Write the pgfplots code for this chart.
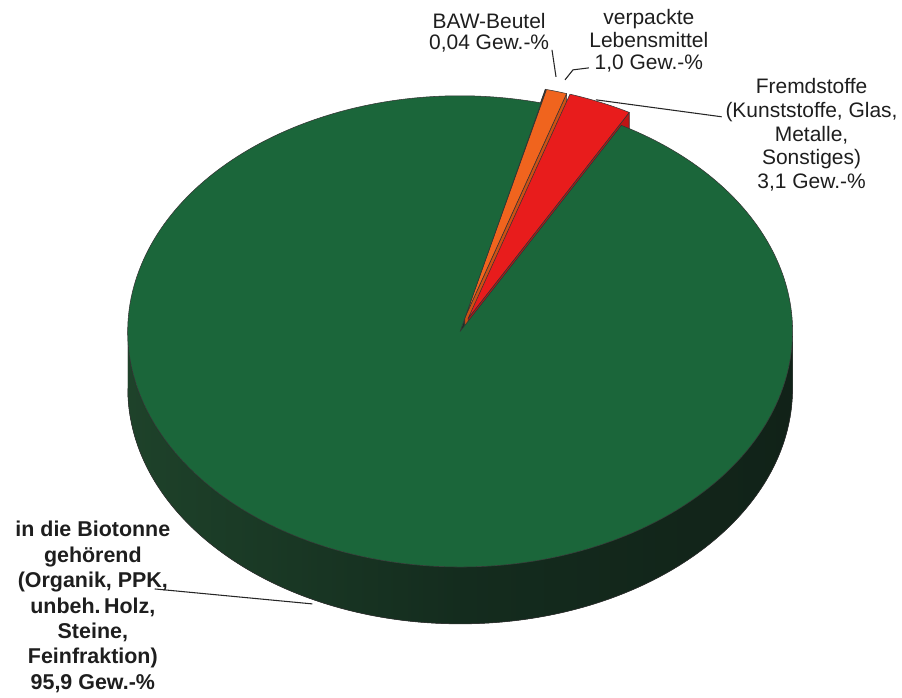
\documentclass[border=0pt]{standalone}
\usepackage{pgfplots}
\pgfplotsset{compat=1.18}
\usepackage{pgfplotstable}
\usepackage{fontspec}
\setmainfont{Liberation Sans}

\definecolor{gtop}{RGB}{27,102,58}
\definecolor{gface}{RGB}{20,55,35}
\definecolor{sideL}{RGB}{30,66,42}
\definecolor{sideM}{RGB}{20,44,30}
\definecolor{sideR}{RGB}{17,34,24}
\definecolor{rtop}{RGB}{232,28,28}
\definecolor{rface}{RGB}{190,20,20}
\definecolor{otop}{RGB}{240,100,30}
\definecolor{oface}{RGB}{205,80,20}
\definecolor{btop}{RGB}{30,50,38}
\definecolor{txt}{RGB}{30,30,30}

\pgfplotstableread{
part value
green 95.9
red 3.1
orange 1.0
baw 0.04
}\piedata

% top face of a slice: colour, apex x, apex y, start angle, end angle
\newcommand\pietop[5]{%
  \filldraw[fill=#1, draw=black!80, line width=0.4pt, line join=round]
    (axis cs:#2,#3) -- ([shift={(#4:249.75pt and 177pt)}]axis cs:#2,#3)
    arc[start angle=#4, end angle=#5, x radius=249.75pt, y radius=177pt] -- cycle;}
% radial cut face: colour, apex x, apex y (top), apex y (bottom), angle
\newcommand\pieradial[5]{%
  \filldraw[fill=#1, draw=black!80, line width=0.4pt, line join=round]
    (axis cs:#2,#3) -- ([shift={(#5:249.75pt and 177pt)}]axis cs:#2,#3)
    -- ([shift={(#5:249.75pt and 177pt)}]axis cs:#2,#4) -- (axis cs:#2,#4) -- cycle;}

\begin{document}
\begin{tikzpicture}
\pgfplotstablegetelem{0}{value}\of\piedata \let\vG\pgfplotsretval
\pgfplotstablegetelem{1}{value}\of\piedata \let\vR\pgfplotsretval
\pgfplotstablegetelem{2}{value}\of\piedata \let\vO\pgfplotsretval
\pgfplotstablegetelem{3}{value}\of\piedata \let\vB\pgfplotsretval
\pgfmathsetmacro\tot{\vG+\vR+\vO+\vB}
\pgfmathsetmacro\aR{61}
\pgfmathsetmacro\bR{\aR+\vR/\tot*360}
\pgfmathsetmacro\bO{\bR+\vO/\tot*360}
\pgfmathsetmacro\bB{\bO+\vB/\tot*360}
\pgfmathsetmacro\bG{\aR+360}
% centre of the pie (axis units = pixels), thickness 57
\def\cx{461}\def\cy{360}\def\cyb{303}
% exploded apices
\pgfmathsetmacro\mR{(\aR+\bR)/2}
\pgfmathsetmacro\Rx{\cx+0.06*333*cos(\mR)}
\pgfmathsetmacro\Ry{\cy+0.06*236*sin(\mR)}
\pgfmathsetmacro\Ryb{\Ry-57}
\pgfmathsetmacro\mO{(\bR+\bO)/2}
\pgfmathsetmacro\Ox{\cx+0.05*333*cos(\mO)}
\pgfmathsetmacro\Oy{\cy+0.06*236*sin(\mO)}
\pgfmathsetmacro\Oyb{\Oy-57}
\pgfmathsetmacro\mB{(\bO+\bB)/2}
\pgfmathsetmacro\Bx{\cx+0.05*333*cos(\mB)}
\pgfmathsetmacro\By{\cy+0.06*236*sin(\mB)}
\pgfmathsetmacro\Byb{\By-57}
\begin{axis}[width=676.5pt, height=519pt, scale only axis,
  xmin=0, xmax=902, ymin=0, ymax=692, hide axis, clip=false]
  % keep the full canvas as bounding box
  \path (axis cs:0,0) rectangle (axis cs:902,692);
  % green cut face visible in the gap
  \pieradial{gface}{\cx}{\cy}{\cyb}{\bB}
  % BAW-Beutel
  \pieradial{btop}{\Bx}{\By}{\Byb}{\bO}
  \pietop{btop}{\Bx}{\By}{\bO}{\bB}
  % verpackte Lebensmittel
  \pieradial{oface}{\Ox}{\Oy}{\Oyb}{\bR}
  \pietop{otop}{\Ox}{\Oy}{\bR}{\bO}
  % Fremdstoffe
  \pieradial{rface}{\Rx}{\Ry}{\Ryb}{\aR}
  \pietop{rtop}{\Rx}{\Ry}{\aR}{\bR}
  % green front side
  \fill[left color=sideL, right color=sideR, middle color=sideM]
    ([shift={(180:249.75pt and 177pt)}]axis cs:\cx,\cy)
    arc[start angle=180, end angle=360, x radius=249.75pt, y radius=177pt]
    -- ([shift={(0:249.75pt and 177pt)}]axis cs:\cx,\cyb)
    arc[start angle=360, end angle=180, x radius=249.75pt, y radius=177pt] -- cycle;
  \draw[black!80, line width=0.4pt]
    ([shift={(180:249.75pt and 177pt)}]axis cs:\cx,\cyb)
    arc[start angle=180, end angle=360, x radius=249.75pt, y radius=177pt];
  % green top face
  \pietop{gtop}{\cx}{\cy}{\bB}{\bG}

  % leader lines
  \draw[black!85, line width=0.8pt] (axis cs:553,642) -- (axis cs:557,615);
  \draw[black!85, line width=0.8pt] (axis cs:566,612) -- (axis cs:574,622) -- (axis cs:590,624);
  \draw[black!85, line width=0.8pt] (axis cs:597,592) -- (axis cs:723,575);
  \draw[black!85, line width=0.8pt] (axis cs:155,102) -- (axis cs:313,87);

  % labels
  \node[align=center, text=txt, font=\fontsize{15.75}{15.75}\selectfont]
    at (axis cs:490,659) {BAW-Beutel\\0,04 Gew.-\%};
  \node[align=center, text=txt, font=\fontsize{15.75}{16.9}\selectfont]
    at (axis cs:650,651) {verpackte\\Lebensmittel\\1,0 Gew.-\%};
  \node[align=center, text=txt, font=\fontsize{15.75}{17.8}\selectfont]
    at (axis cs:813,557) {Fremdstoffe\\(Kunststoffe, Glas,\\Metalle,\\Sonstiges)\\3,1 Gew.-\%};
  \node[align=center, text=txt, font=\bfseries\fontsize{16.1}{19.1}\selectfont]
    at (axis cs:93,84) {in die Biotonne\\geh\"orend\\(Organik, PPK,\\unbeh.\,Holz,\\Steine,\\Feinfraktion)\\95,9 Gew.-\%};
\end{axis}
\end{tikzpicture}
\end{document}
